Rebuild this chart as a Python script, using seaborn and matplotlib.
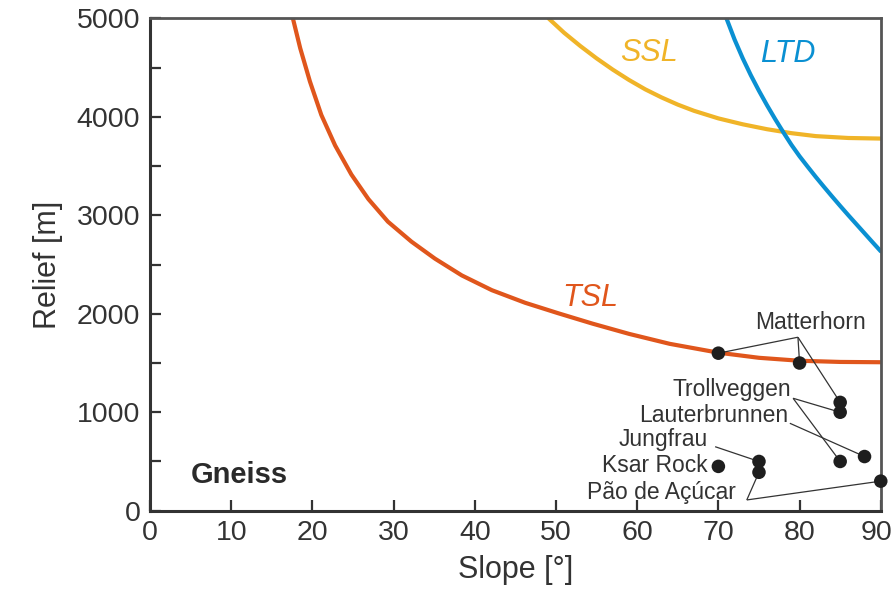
import matplotlib
matplotlib.use("Agg")
import matplotlib.pyplot as plt
import matplotlib.transforms as mtransforms
import seaborn as sns
import pandas as pd

# ---- data ----
tsl_slope = [17.6, 18.5, 19.7, 21.1, 22.8, 24.8, 26.9, 29.3, 32.2, 35.1, 38.4, 42.1, 46.2,
             50.3, 54.5, 59.0, 64.0, 70.0, 75.0, 80.0, 85.0, 90.0]
tsl_relief = [5000, 4698, 4359, 4020, 3710, 3415, 3165, 2936, 2733, 2560, 2390, 2240, 2112,
              2005, 1900, 1796, 1695, 1605, 1553, 1523, 1511, 1508]

ssl_slope = [49.1, 51, 53, 55, 57, 59, 61, 63, 65, 67, 70, 73, 76, 79, 82, 86, 90]
ssl_relief = [5000, 4855, 4720, 4595, 4480, 4375, 4280, 4198, 4125, 4062, 3985, 3925, 3875,
              3835, 3805, 3786, 3780]

ltd_slope = [71, 72, 73, 74, 75, 76, 77, 78, 79, 80, 81, 82, 83, 84, 85, 86, 87, 88, 89, 90]
ltd_relief = [5000, 4785, 4595, 4423, 4265, 4117, 3977, 3844, 3716, 3600, 3494, 3390, 3290,
              3192, 3096, 3002, 2910, 2818, 2726, 2635]

site_slope = [70, 80, 85, 85, 85, 88, 70, 75, 75, 90]
site_relief = [1600, 1500, 1100, 1000, 500, 550, 450, 500, 390, 300]

site_names = ["Matterhorn", "Trollveggen", "Lauterbrunnen", "Jungfrau", "Ksar Rock", "Pão de Açúcar"]
# indices of the points each label refers to
site_links = [[0, 1, 2], [3, 4], [5], [7], [], [8, 9]]

curve_names = ["TSL", "SSL", "LTD"]
curve_colors = ["#E0561C", "#F0B428", "#0A90D2"]

# ---- figure ----
sns.set_theme(style="ticks")
plt.rcParams["font.family"] = ["Liberation Sans", "DejaVu Sans"]

fig = plt.figure(figsize=(8.95, 6.02), dpi=100)
ax = fig.add_axes([0.1676, 0.1517, 0.8165, 0.8176])

curves = pd.concat([
    pd.DataFrame({"slope": tsl_slope, "relief": tsl_relief, "curve": "TSL"}),
    pd.DataFrame({"slope": ssl_slope, "relief": ssl_relief, "curve": "SSL"}),
    pd.DataFrame({"slope": ltd_slope, "relief": ltd_relief, "curve": "LTD"}),
])
sns.lineplot(data=curves, x="slope", y="relief", hue="curve", hue_order=curve_names,
             palette=curve_colors, estimator=None, sort=False, linewidth=3.0,
             legend=False, ax=ax)
for ln in ax.get_lines():
    ln.set_solid_joinstyle("round")

# leader lines
anchors = [(79.8, 1762), (79.2, 1142), (78.8, 888), (69.6, 650), None, (73.5, 109)]
for anc, links in zip(anchors, site_links):
    if anc is None:
        continue
    for i in links:
        ax.plot([anc[0], site_slope[i]], [anc[1], site_relief[i]], color="#333333",
                lw=0.9, zorder=3, solid_capstyle="butt")

sites = pd.DataFrame({"slope": site_slope, "relief": site_relief})
sns.scatterplot(data=sites, x="slope", y="relief", color="#1e1e1e", s=95,
                edgecolor="none", ax=ax, zorder=5, clip_on=False)

# site labels
label_pos = [(81.3, 1915, "center"), (79.0, 1226, "right"), (78.6, 962, "right"),
             (68.7, 718, "right"), (68.7, 454, "right"), (72.1, 180, "right")]
for name, (x, y, ha) in zip(site_names, label_pos):
    ax.text(x, y, name, ha=ha, va="center", fontsize=16.5, color="#333333")

# curve labels
curve_label_pos = [(54.2, 2164), (61.4, 4650), (78.6, 4640)]
for name, col, (x, y) in zip(curve_names, curve_colors, curve_label_pos):
    ax.text(x, y, name, ha="center", va="center", fontsize=22, style="italic", color=col)

ax.text(5.0, 363, "Gneiss", ha="left", va="center", fontsize=21, fontweight="bold", color="#2a2a2a")

ax.set_xlim(0, 90)
ax.set_ylim(0, 5000)
ax.set_xticks(range(0, 91, 10))
ax.set_yticks(range(0, 5001, 1000))
ax.set_yticks(range(500, 5000, 1000), minor=True)
ax.tick_params(axis="both", which="both", direction="in", length=8, width=1.6,
               color="#333333", labelsize=20.5, labelcolor="#333333", pad=7)
ax.set_xlabel("Slope [°]", fontsize=22, color="#333333", labelpad=6)
ax.set_ylabel("Relief [m]", fontsize=22, color="#333333", labelpad=10)

# keep the last x tick label inside the figure
fig.canvas.draw()
last = ax.get_xticklabels()[-1]
last.set_transform(last.get_transform() +
                   mtransforms.ScaledTranslation(-4 / 100, 0, fig.dpi_scale_trans))

for side in ["left", "bottom"]:
    ax.spines[side].set_color("#333333")
    ax.spines[side].set_linewidth(2.2)
for side in ["top", "right"]:
    ax.spines[side].set_visible(True)
    ax.spines[side].set_color("#555555")
    ax.spines[side].set_linewidth(2.0)

fig.savefig("out.png", dpi=100, facecolor="white")
